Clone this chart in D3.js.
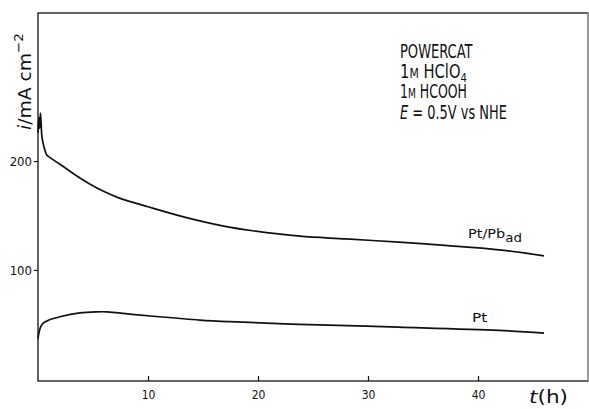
<!DOCTYPE html>
<html><head><meta charset="utf-8">
<script src="https://cdn.jsdelivr.net/npm/d3@7"></script>
<style>body{margin:0;background:#fff}svg{display:block}text{font-family:"DejaVu Sans Condensed","Liberation Sans Narrow","Liberation Sans",Arial,sans-serif;fill:#111}</style>
</head><body>
<svg id="c" width="589" height="409"></svg>
<script>
// Data (t in hours, current density in mA cm^-2)
const ptpbT = [0, 0.08, 0.15, 0.22, 0.28, 0.34, 0.45, 0.63, 0.8, 1.2, 1.7, 2.3, 3.5, 4.7, 6, 7.4, 10, 13.5, 17, 19.5, 23.8, 28, 32.8, 37, 41.9, 46];
const ptpbI = [226, 240, 230, 244, 236, 224, 217, 210, 205.5, 202.5, 199, 195, 186.5, 179, 172, 166, 158, 148, 140, 136, 131, 128.5, 125.5, 122.5, 118.5, 113];
const ptT = [0, 0.1, 0.25, 0.45, 1, 2, 3.8, 5.3, 6.3, 8.3, 11, 14.7, 17.4, 23.8, 32.8, 41.9, 46];
const ptI = [37, 43, 48, 51, 54, 57, 60.5, 61.5, 61.5, 59.5, 57, 54, 52.5, 50, 47.5, 44.5, 42];
const xTicks = [10, 20, 30, 40];
const yTicks = [100, 200];

const svg = d3.select("#c");
const L = 38, R = 588, T = 13, B = 381;
const x = d3.scaleLinear().domain([0, 50]).range([L, R]);
const y = d3.scaleLinear().domain([-2, 336]).range([B, T]);

// frame
svg.append("rect").attr("x", L).attr("y", T).attr("width", R - L).attr("height", B - T)
  .attr("fill", "none").attr("stroke", "#111").attr("stroke-width", 1.3);
svg.append("line").attr("x1", R).attr("x2", R).attr("y1", T).attr("y2", B).attr("stroke", "#ccc").attr("stroke-width", 1);

// x axis: ticks inside
const xa = svg.append("g").attr("transform", `translate(0,${B})`)
  .call(d3.axisBottom(x).tickValues(xTicks).tickSizeInner(-5).tickSizeOuter(0).tickPadding(9));
xa.select(".domain").remove();
xa.selectAll("line").attr("stroke", "#111").attr("stroke-width", 1.2);
xa.selectAll("text").attr("font-size", 12).attr("fill", "#111").attr("font-family", null);

const ya = svg.append("g").attr("transform", `translate(${L},0)`)
  .call(d3.axisLeft(y).tickValues(yTicks).tickSize(4).tickPadding(2));
ya.select(".domain").remove();
ya.selectAll("line").attr("stroke", "#111").attr("stroke-width", 1.2);
ya.selectAll("text").attr("font-size", 13).attr("fill", "#111").attr("font-family", null);

// curves
const line = d3.line().x(d => x(d[0])).y(d => y(d[1])).curve(d3.curveCatmullRom.alpha(0.5));
svg.append("path").datum(d3.zip(ptpbT, ptpbI)).attr("d", line)
  .attr("fill", "none").attr("stroke", "#111").attr("stroke-width", 1.7);
svg.append("path").datum(d3.zip(ptT, ptI)).attr("d", line)
  .attr("fill", "none").attr("stroke", "#111").attr("stroke-width", 1.7);

function fitWidth(sel, target) {
  const w = sel.node().getBBox().width;
  return target / w;
}

// info block
const info = [
  {y: 58, w: 73, parts: [["POWERCAT", {}]]},
  {y: 78, w: 67, parts: [["1", {}], ["M", {size: 14}], [" HClO", {}], ["4", {size: 13, dy: 4}]]},
  {y: 98, w: 67, parts: [["1", {}], ["M", {size: 14}], [" HCOOH", {dy: 0}]]},
  {y: 119, w: 107, parts: [["E", {italic: true}], [" = 0.5V vs NHE", {}]]}
];
info.forEach(line => {
  const g = svg.append("g");
  const t = g.append("text").attr("font-size", 19);
  let prevDy = 0;
  line.parts.forEach(([s, o]) => {
    const ts = t.append("tspan").text(s);
    if (o.size) ts.attr("font-size", o.size);
    if (o.italic) ts.attr("font-style", "italic");
    const dy = (o.dy || 0) - prevDy;
    if (dy) ts.attr("dy", dy);
    prevDy = o.dy || 0;
  });
  const s = fitWidth(t, line.w);
  g.attr("transform", `translate(400,${line.y}) scale(${s},1)`);
});

// series labels
const l1 = svg.append("g");
const t1 = l1.append("text").attr("font-size", 13);
t1.append("tspan").text("Pt/Pb");
t1.append("tspan").text("ad").attr("font-size", 12).attr("dy", 4);
l1.attr("transform", `translate(468,238) scale(${fitWidth(t1, 54)},1)`);

const l2 = svg.append("g");
const t2 = l2.append("text").attr("font-size", 13).text("Pt");
l2.attr("transform", `translate(472,322) scale(${fitWidth(t2, 16)},1)`);

// y label
const yl = svg.append("g");
const ytxt = yl.append("text").attr("font-size", 18);
ytxt.append("tspan").text("i").attr("font-style", "italic");
ytxt.append("tspan").text("/mA cm");
ytxt.append("tspan").text("−2").attr("font-size", 13).attr("dy", -8);
const ys = fitWidth(ytxt, 97);
yl.attr("transform", `translate(31,130) rotate(-90) scale(${ys},1)`);

// x label
const xl = svg.append("g");
const xtxt = xl.append("text").attr("font-size", 18);
xtxt.append("tspan").text("t").attr("font-style", "italic");
xtxt.append("tspan").text("(h)");
xl.attr("transform", `translate(529,403) scale(${fitWidth(xtxt, 39)},1)`);
</script>
</body></html>
